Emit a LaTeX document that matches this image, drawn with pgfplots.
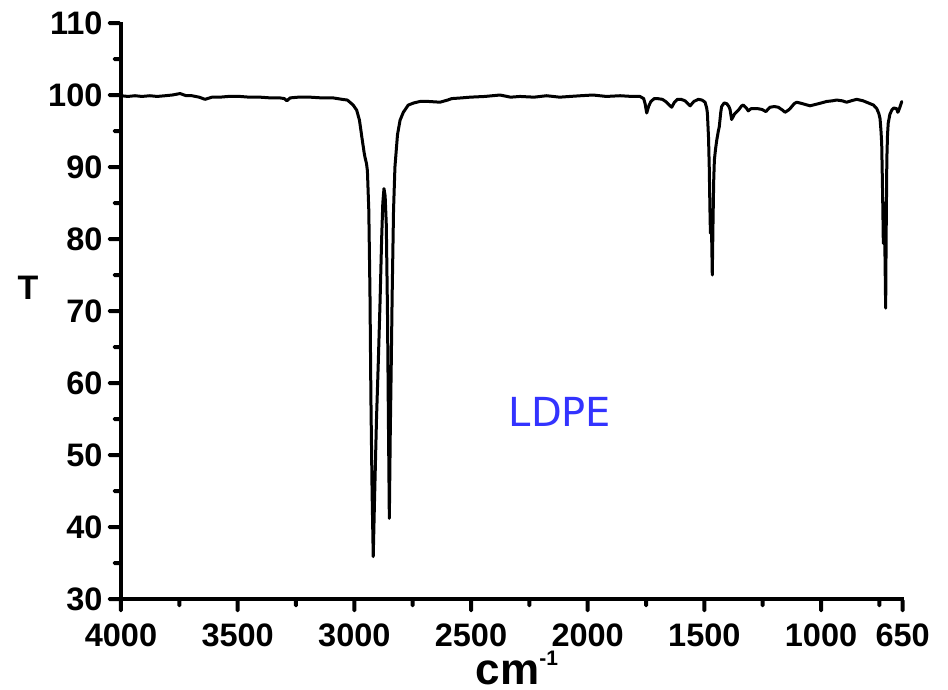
\documentclass[border=0pt]{standalone}
\usepackage{pgfplots}
\pgfplotsset{compat=1.18}
\usepackage{fontspec}
\setmainfont{Liberation Sans}
\newfontfamily\ldpefont{DejaVu Sans}
\definecolor{ldpeblue}{RGB}{51,51,255}
\begin{document}
\begin{tikzpicture}
\path[use as bounding box] (-121pt,-90pt) rectangle (827pt,599pt);
\begin{axis}[
  at={(0,0)}, anchor=south west,
  scale only axis, width=781.7pt, height=576pt,
  x dir=reverse, xmin=650, xmax=4000, ymin=30, ymax=110,
  axis x line=bottom, axis y line=left,
  axis line style={-},
  clip=false,
  xtick={4000,3500,3000,2500,2000,1500,1000,650},
  xticklabels={4000,3500,3000,2500,2000,1500,1000,650},
  minor xtick={3750,3250,2750,2250,1750,1250,750},
  ytick={30,40,50,60,70,80,90,100,110},
  yticklabels={30,40,50,60,70,80,90,100,110},
  minor ytick={35,45,55,65,75,85,95,105},
  tick align=outside,
  major tick length=12pt, minor tick length=7pt,
  /pgf/number format/assume math mode=true,
  ticklabel style={font=\fontsize{32.5}{32.5}\selectfont\bfseries},
  xticklabel style={yshift=-9pt},
  yticklabel style={xshift=-3pt},
]
\addplot[black, line width=3pt, line join=round, line cap=round] coordinates {
(4000,99.9) (3970,99.8) (3940,99.9) (3910,99.8) (3876,99.9) (3845,99.8) (3811,99.9) (3780,100.0) (3747,100.2) (3720,99.9) (3696,99.9) (3665,99.7) (3640,99.4) (3610,99.7) (3576,99.7) (3540,99.8) (3490,99.8) (3450,99.7) (3404,99.7) (3360,99.6) (3319,99.6) (3300,99.5) (3289,99.2) (3275,99.6) (3240,99.7) (3190,99.7) (3140,99.6) (3091,99.6) (3053,99.4) (3030,99.3) (3019,99.0) (3005,98.6) (2990,97.9) (2978,96.5) (2968,94.2) (2958,92.0) (2954,91.3) (2948,90.5) (2944,89.5) (2938,84.0) (2933,72.5) (2929,58.0) (2924,45.0) (2919,35.9) (2914,43.0) (2905,55.0) (2897,63.2) (2890,71.0) (2883,80.0) (2878,85.0) (2873,87.0) (2868,86.0) (2863,82.0) (2858,70.0) (2854,55.0) (2850,41.2) (2846,53.0) (2842,62.0) (2838,72.0) (2832,84.0) (2826,90.0) (2815,94.5) (2804,96.5) (2790,97.6) (2769,98.6) (2745,98.9) (2719,99.1) (2680,99.1) (2633,99.0) (2600,99.3) (2583,99.5) (2540,99.6) (2504,99.7) (2440,99.8) (2376,100.0) (2330,99.7) (2290,99.8) (2230,99.7) (2176,99.9) (2120,99.7) (2076,99.8) (2030,99.9) (1977,100.0) (1920,99.8) (1861,99.9) (1810,99.8) (1776,99.8) (1760,99.5) (1754,98.8) (1747,97.5) (1738,98.5) (1729,99.1) (1715,99.5) (1701,99.5) (1680,99.4) (1666,99.1) (1650,98.6) (1640,98.3) (1628,99.0) (1615,99.4) (1600,99.4) (1583,99.2) (1570,98.8) (1561,98.5) (1545,99.1) (1526,99.4) (1510,99.3) (1497,99.0) (1490,98.2) (1487,97.5) (1482,94.0) (1479,90.0) (1476,84.0) (1474,80.8) (1472,82.0) (1470,82.6) (1468,79.0) (1466,75.0) (1463,82.0) (1460,88.0) (1457,91.0) (1452,92.5) (1447,93.7) (1440,95.0) (1436,95.6) (1430,97.5) (1426,98.4) (1415,98.9) (1404,98.8) (1395,98.4) (1390,98.0) (1383,96.6) (1370,97.4) (1354,97.9) (1340,98.5) (1333,98.6) (1320,98.2) (1312,97.8) (1300,98.1) (1290,98.1) (1270,98.1) (1254,98.0) (1236,97.7) (1225,98.1) (1219,98.3) (1200,98.4) (1183,98.3) (1165,97.9) (1154,97.6) (1140,97.9) (1133,98.1) (1115,98.8) (1104,99.0) (1080,98.8) (1047,98.5) (1010,98.8) (976,99.1) (950,99.2) (933,99.3) (910,99.2) (890,99.0) (870,99.2) (847,99.4) (820,99.2) (790,98.8) (775,98.6) (761,98.1) (752,97.4) (747,96.7) (743,95.0) (740,93.3) (737,88.0) (735,84.0) (733,79.4) (731,83.0) (729,85.0) (726,78.0) (723,70.4) (721,80.0) (718,91.0) (715,94.5) (712,96.1) (705,97.3) (697,97.9) (688,98.2) (676,98.1) (671,97.6) (669,97.7) (662,98.3) (654,99.1)
};
\fill[black] ([xshift=-2pt,yshift=-2pt]rel axis cs:0,0) rectangle ([xshift=2pt,yshift=1pt]rel axis cs:0,1);
\fill[black] ([xshift=-2pt,yshift=-2pt]rel axis cs:0,0) rectangle ([xshift=1pt,yshift=2pt]rel axis cs:1,0);
\pgfplotsinvokeforeach{4000,3500,3000,2500,2000,1500,1000,650}{
  \fill[black, rounded corners=1.5pt] ([xshift=-2pt]axis cs:#1,30) rectangle ([xshift=2pt,yshift=-13pt]axis cs:#1,30);}
\pgfplotsinvokeforeach{3750,3250,2750,2250,1750,1250,750}{
  \fill[black, rounded corners=1.5pt] ([xshift=-2pt]axis cs:#1,30) rectangle ([xshift=2pt,yshift=-8pt]axis cs:#1,30);}
\pgfplotsinvokeforeach{30,40,50,60,70,80,90,100,110}{
  \fill[black, rounded corners=1.5pt] ([yshift=-2pt]axis cs:4000,#1) rectangle ([xshift=-13pt,yshift=2pt]axis cs:4000,#1);}
\pgfplotsinvokeforeach{35,45,55,65,75,85,95,105}{
  \fill[black, rounded corners=1.5pt] ([yshift=-2pt]axis cs:4000,#1) rectangle ([xshift=-8pt,yshift=2pt]axis cs:4000,#1);}
\node[font=\fontsize{34}{34}\selectfont\bfseries] at (rel axis cs:-0.119,0.54) {T};
\node[font=\fontsize{44}{44}\selectfont\bfseries, anchor=base west, inner sep=0pt] at (rel axis cs:0.4535,-0.1476) {cm\raisebox{19pt}{\fontsize{21}{21}\selectfont -1}};
\node[font=\ldpefont\fontsize{40}{40}\selectfont, text=ldpeblue] at (rel axis cs:0.5616,0.3247) {LDPE};
\end{axis}
\end{tikzpicture}
\end{document}
